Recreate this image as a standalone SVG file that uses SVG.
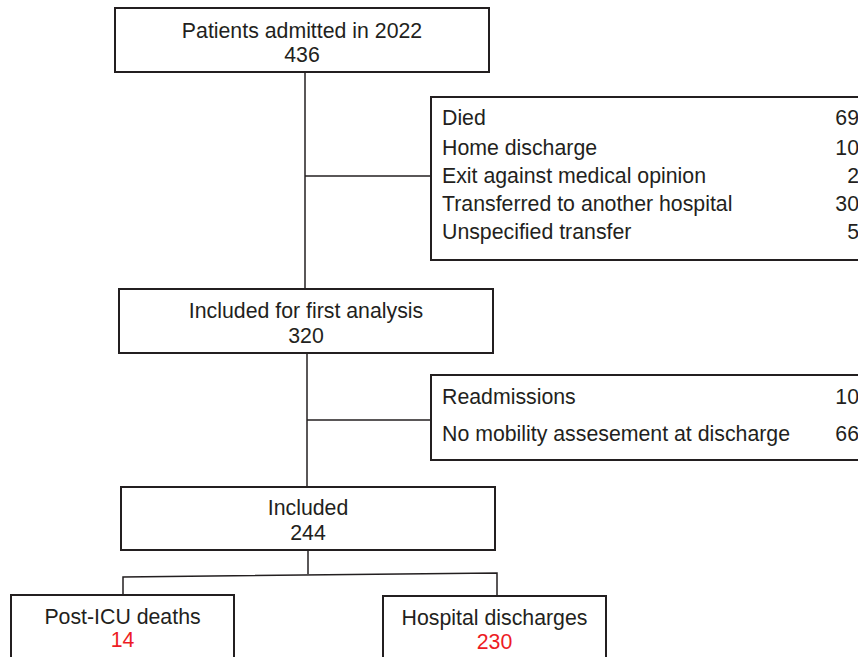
<svg xmlns="http://www.w3.org/2000/svg" width="858" height="657" viewBox="0 0 858 657">
<style>
.box{fill:#fff;stroke:#231f20;stroke-width:2}
.ln{fill:none;stroke:#231f20;stroke-width:1.5}
text{font-family:"Liberation Sans",Arial,sans-serif;font-size:21.3px;fill:#231f20}
.c{text-anchor:middle}
.r{text-anchor:end}
.red{fill:#ed1c24}
</style>
<rect width="858" height="657" fill="#fff"/>
<g id="connectors">
<line class="ln" x1="305" y1="72" x2="305" y2="289"/>
<line class="ln" x1="305" y1="176" x2="431" y2="176"/>
<line class="ln" x1="307" y1="353" x2="307" y2="487"/>
<line class="ln" x1="307" y1="420" x2="431" y2="420"/>
<polyline class="ln" points="308,550 308,574"/>
<polyline class="ln" points="123,595 123,577 497,573 497,596"/>
</g>
<g id="n1">
<rect class="box" x="115" y="8" width="374" height="64"/>
<text class="c" x="302" y="38">Patients admitted in 2022</text>
<text class="c" x="302" y="62">436</text>
</g>
<g id="ex1">
<rect class="box" x="431" y="97" width="440" height="163"/>
<text x="442" y="125">Died</text>
<text x="442" y="155">Home discharge</text>
<text x="442" y="183">Exit against medical opinion</text>
<text x="442" y="211">Transferred to another hospital</text>
<text x="442" y="239">Unspecified transfer</text>
<text class="r" x="859" y="125">69</text>
<text class="r" x="859" y="155">10</text>
<text class="r" x="859" y="183">2</text>
<text class="r" x="859" y="211">30</text>
<text class="r" x="859" y="239">5</text>
</g>
<g id="n2">
<rect class="box" x="119" y="289" width="374" height="64"/>
<text class="c" x="306" y="318">Included for first analysis</text>
<text class="c" x="306" y="343">320</text>
</g>
<g id="ex2">
<rect class="box" x="431" y="375" width="440" height="85"/>
<text x="442" y="404">Readmissions</text>
<text x="442" y="441">No mobility assesement at discharge</text>
<text class="r" x="859" y="404">10</text>
<text class="r" x="859" y="441">66</text>
</g>
<g id="n3">
<rect class="box" x="121" y="487" width="374" height="63"/>
<text class="c" x="308" y="515">Included</text>
<text class="c" x="308" y="540">244</text>
</g>
<g id="n4">
<rect class="box" x="11" y="595" width="223" height="80"/>
<text class="c" x="122.5" y="624">Post-ICU deaths</text>
<text class="c red" x="122.5" y="647">14</text>
</g>
<g id="n5">
<rect class="box" x="383" y="596" width="223" height="80"/>
<text class="c" x="494.5" y="625">Hospital discharges</text>
<text class="c red" x="494.5" y="649">230</text>
</g>
</svg>
